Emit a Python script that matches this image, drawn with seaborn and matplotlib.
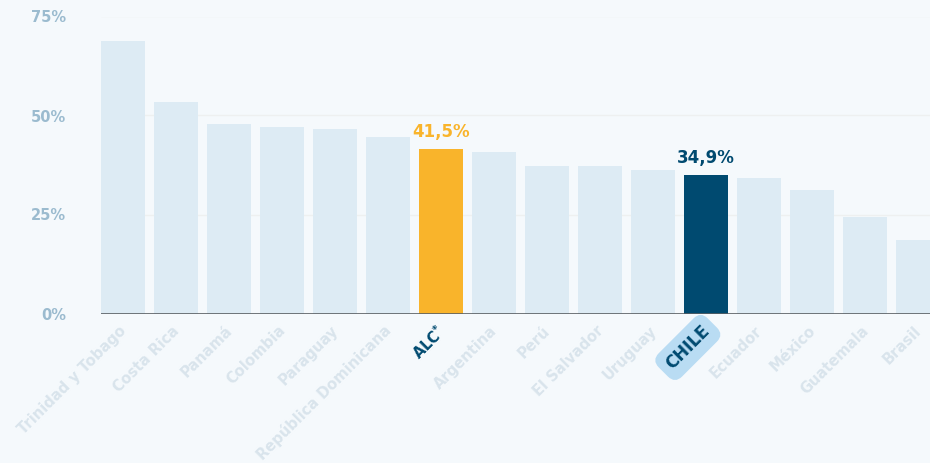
import matplotlib
matplotlib.use("Agg")
import matplotlib.pyplot as plt
import matplotlib.transforms as mtransforms
import numpy as np
import pandas as pd
import seaborn as sns

# Chart data
countries = ["Trinidad y Tobago", "Costa Rica", "Panamá", "Colombia", "Paraguay",
             "República Dominicana", "ALC", "Argentina", "Perú", "El Salvador",
             "Uruguay", "CHILE", "Ecuador", "México", "Guatemala", "Brasil"]
values = [68.8, 53.4, 47.9, 47.1, 46.6, 44.6, 41.5, 40.8, 37.2, 37.2,
          36.2, 34.9, 34.2, 31.2, 24.4, 18.5]
highlighted = ["ALC", "CHILE"]
y_ticks = [0, 25, 50, 75]

# Colours
bg = "#f5f9fc"
bar_light = "#ddebf4"
alc_col = "#f9b42b"
chile_col = "#004a70"
tick_light = "#d9e4ec"
ytick_col = "#9bbbcf"

sns.set_theme(style="white")
plt.rcParams["font.family"] = ["DejaVu Sans"]
plt.rcParams["mathtext.default"] = "bf"

df = pd.DataFrame({"country": countries, "value": values})
palette = {c: bar_light for c in countries}
palette["ALC"] = alc_col
palette["CHILE"] = chile_col

fig = plt.figure(figsize=(9.3, 4.63), dpi=100, facecolor=bg)
ax = fig.add_axes([101 / 930, 149.5 / 463, 1 - 101 / 930, 297 / 463])
ax.set_facecolor(bg)

# faint grid lines behind bars
for t in y_ticks[1:]:
    ax.axhline(t, color="#eef0f0", lw=1, zorder=0)

sns.barplot(data=df, x="country", y="value", hue="country", palette=palette,
            legend=False, width=0.83, saturation=1, edgecolor="none",
            linewidth=0, ax=ax, zorder=2)

ax.axhline(0, color="#5a5f63", lw=1.2, zorder=3)

ax.set_xlim(-0.415, -0.415 + 829 / 53)
ax.set_ylim(0, 75)
ax.set_xlabel("")
ax.set_ylabel("")
for s in ax.spines.values():
    s.set_visible(False)

ax.set_yticks(y_ticks)
ax.set_yticklabels([f"{t}%" for t in y_ticks], color=ytick_col,
                   fontsize=10.5, fontweight="semibold")
ax.tick_params(axis="y", length=0, pad=25)
ax.tick_params(axis="x", length=0, pad=2)

# value labels for the highlighted bars
for c, col in [("ALC", alc_col), ("CHILE", chile_col)]:
    i = countries.index(c)
    v = values[i]
    ax.annotate(f"{v:.1f}".replace(".", ",") + "%", (i, v), xytext=(0, 6),
                textcoords="offset points", ha="center", va="bottom",
                color=col, fontsize=12, fontweight="bold")

# x tick labels
xlabels = [r"ALC$^{*}$" if c == "ALC" else c for c in countries]
ax.set_xticks(range(len(countries)))
ax.set_xticklabels(xlabels, rotation=45, ha="right", va="center",
                   rotation_mode="anchor", fontsize=10.5, fontweight="bold")
offset = mtransforms.ScaledTranslation(1 / 100, -12 / 100, fig.dpi_scale_trans)
for lab, c in zip(ax.get_xticklabels(), countries):
    lab.set_transform(lab.get_transform() + offset)
    if c in highlighted:
        lab.set_color(chile_col)
    else:
        lab.set_color(tick_light)
    if c == "CHILE":
        lab.set_fontsize(12)
        lab.set_bbox(dict(boxstyle="round,pad=0.45,rounding_size=0.6",
                          fc="#b9dcf3", ec="none"))

fig.savefig("out.png", dpi=100, facecolor=bg)
